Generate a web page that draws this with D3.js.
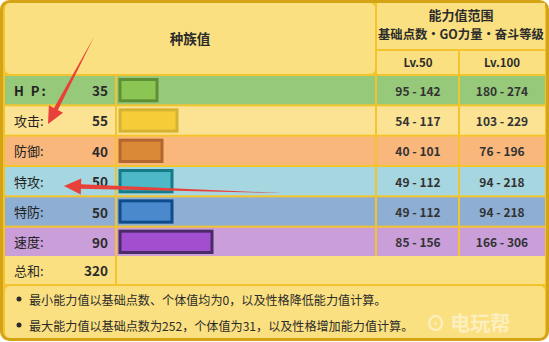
<!DOCTYPE html>
<html>
<head>
<meta charset="utf-8">
<script src="https://cdn.jsdelivr.net/npm/d3@7"></script>
<style>
  html, body { margin: 0; padding: 0; background: #fff; }
  svg { display: block; font-family: "Noto Sans CJK SC", "Noto Sans", sans-serif; }
</style>
</head>
<body>
<svg id="chart" width="549" height="342"></svg>
<script>
// data
const statLabels = ['H P:', '攻击:', '防御:', '特攻:', '特防:', '速度:'];
const baseStats = [35, 55, 40, 50, 50, 90];
const rangeLv50 = ['95 - 142', '54 - 117', '40 - 101', '49 - 112', '49 - 112', '85 - 156'];
const rangeLv100 = ['180 - 274', '103 - 229', '76 - 196', '94 - 218', '94 - 218', '166 - 306'];
const totalLabel = '总和:';
const totalValue = 320;
const notes = [
  '最小能力值以基础点数、个体值均为0，以及性格降低能力值计算。',
  '最大能力值以基础点数为252，个体值为31，以及性格增加能力值计算。'
];

// row palette: [row background, bar fill, bar stroke]
const rowColors = [
  ['#97c97a', '#8bc655', '#5e8f35'],
  ['#fce393', '#f6cd38', '#d4b232'],
  ['#f9b77c', '#da8a37', '#b3662e'],
  ['#a6d6e0', '#4db8c8', '#167a88'],
  ['#8eaed3', '#4b89cd', '#0e4b8b'],
  ['#c99ed9', '#a24fcf', '#4b2a68']
];
const PALE = '#fae080';
const GOLD = '#f4c42e';

const svg = d3.select('#chart');

// column edges
const colX = [5, 117, 377, 460, 545];
const rowTop = 76, rowH = 28, rowGap = 2;

const y = d3.scaleBand()
  .domain(d3.range(statLabels.length))
  .range([rowTop, rowTop + statLabels.length * (rowH + rowGap)])
  .paddingInner(rowGap / (rowH + rowGap))
  .paddingOuter(0);

// bar length (px per point, plus the border)
const x = d3.scaleLinear().domain([0, 100]).range([5, 105]);

// outer frame
svg.append('rect')
  .attr('x', 1.5).attr('y', 1.5).attr('width', 546).attr('height', 338)
  .attr('rx', 8)
  .attr('fill', GOLD)
  .attr('stroke', '#d4a416').attr('stroke-width', 3);

// header cells
const cell = (x0, y0, w, h, fill) => svg.append('rect')
  .attr('x', x0).attr('y', y0).attr('width', w).attr('height', h).attr('fill', fill);

cell(colX[0], 3, colX[2] - 2 - colX[0], 71, PALE).attr('rx', 5);
cell(colX[2], 3, colX[4] - colX[2], 46, PALE);
cell(colX[2], 51, colX[3] - 2 - colX[2], 23, PALE);
cell(colX[3], 51, colX[4] - colX[3], 23, PALE);

const txt = (tx, ty, s, size, anchor, weight) => svg.append('text')
  .attr('x', tx).attr('y', ty)
  .attr('font-size', size)
  .attr('font-weight', weight || 'bold')
  .attr('text-anchor', anchor || 'middle')
  .attr('dominant-baseline', 'central')
  .attr('fill', '#2b2b2b')
  .text(s);

txt(190, 38, '种族值', 13.5);
txt(461, 14, '能力值范围', 13);
txt(461, 34, '基础点数・GO力量・奋斗等级', 12.3);
txt(418, 62, 'Lv.50', 11.5);
txt(502, 62, 'Lv.100', 11.5);

// stat rows
const rows = svg.selectAll('g.row')
  .data(baseStats.map((v, i) => ({ v, i })))
  .join('g')
  .attr('class', 'row')
  .attr('transform', d => `translate(0,${y(d.i)})`);

[[0, 1], [1, 2], [2, 3], [3, 4]].forEach(([a, b]) => {
  rows.append('rect')
    .attr('x', colX[a])
    .attr('width', colX[b] - colX[a] - (b < 4 ? 2 : 0))
    .attr('height', y.bandwidth())
    .attr('fill', d => rowColors[d.i][0]);
});

rows.append('rect')
  .attr('x', colX[1] + 3)
  .attr('y', 3.5)
  .attr('width', d => x(d.v) - 3)
  .attr('height', y.bandwidth() - 7)
  .attr('fill', d => rowColors[d.i][1])
  .attr('stroke', d => rowColors[d.i][2])
  .attr('stroke-width', 3);

rows.append('text')
  .attr('x', 14).attr('y', y.bandwidth() / 2)
  .attr('dominant-baseline', 'central')
  .attr('font-size', 13)
  .attr('font-weight', d => d.i === 0 ? 'bold' : 'normal')
  .attr('letter-spacing', d => d.i === 0 ? 2 : 0)
  .attr('fill', '#222')
  .text(d => statLabels[d.i]);

rows.append('text')
  .attr('x', 108).attr('y', y.bandwidth() / 2)
  .attr('text-anchor', 'end')
  .attr('dominant-baseline', 'central')
  .attr('font-size', 13.5).attr('font-weight', 'bold')
  .attr('fill', '#2b2b2b')
  .text(d => d.v);

rows.append('text')
  .attr('x', 418).attr('y', y.bandwidth() / 2)
  .attr('text-anchor', 'middle')
  .attr('dominant-baseline', 'central')
  .attr('font-size', 12).attr('font-weight', 'bold')
  .attr('fill', '#333')
  .text(d => rangeLv50[d.i]);

rows.append('text')
  .attr('x', 502).attr('y', y.bandwidth() / 2)
  .attr('text-anchor', 'middle')
  .attr('dominant-baseline', 'central')
  .attr('font-size', 12).attr('font-weight', 'bold')
  .attr('fill', '#333')
  .text(d => rangeLv100[d.i]);

// total row
const totalY = rowTop + statLabels.length * (rowH + rowGap);
cell(colX[0], totalY, colX[1] - 2 - colX[0], rowH, PALE);
cell(colX[1], totalY, colX[4] - colX[1], rowH, PALE);
txt(14, totalY + rowH / 2, totalLabel, 13, 'start', 'normal');
txt(108, totalY + rowH / 2, totalValue, 13.5, 'end');

// footer notes
const footY = totalY + rowH + 2;
cell(colX[0], footY, colX[4] - colX[0], 338 - footY, PALE).attr('rx', 5);
notes.forEach((n, i) => {
  const ny = footY + 13 + i * 26;
  svg.append('circle').attr('cx', 19).attr('cy', ny).attr('r', 2.5).attr('fill', '#2b2b2b');
  txt(29, ny, n, 12.1, 'start', 'normal');
});

// watermark
svg.append('text')
  .attr('x', 468).attr('y', 322)
  .attr('text-anchor', 'middle')
  .attr('dominant-baseline', 'central')
  .attr('font-size', 20).attr('font-weight', 'bold')
  .attr('fill', '#ffffff').attr('opacity', 0.5)
  .text('⊙ 电玩帮');

// red annotation arrows
const arrow = (x1, y1, x2, y2) => {
  const ang = Math.atan2(y2 - y1, x2 - x1);
  const px = -Math.sin(ang), py = Math.cos(ang);
  const headLen = 17, headW = 8, shaftW = 2.2;
  const bx = x2 - Math.cos(ang) * headLen, by = y2 - Math.sin(ang) * headLen;
  const pts = [
    [x1, y1],
    [bx + px * shaftW, by + py * shaftW],
    [bx + px * headW, by + py * headW],
    [x2, y2],
    [bx - px * headW, by - py * headW],
    [bx - px * shaftW, by - py * shaftW]
  ];
  svg.append('path')
    .attr('d', d3.line()(pts) + 'Z')
    .attr('fill', '#e8413a');
};
arrow(94, 37, 48, 124);
arrow(282, 193, 64, 186);
</script>
</body>
</html>
